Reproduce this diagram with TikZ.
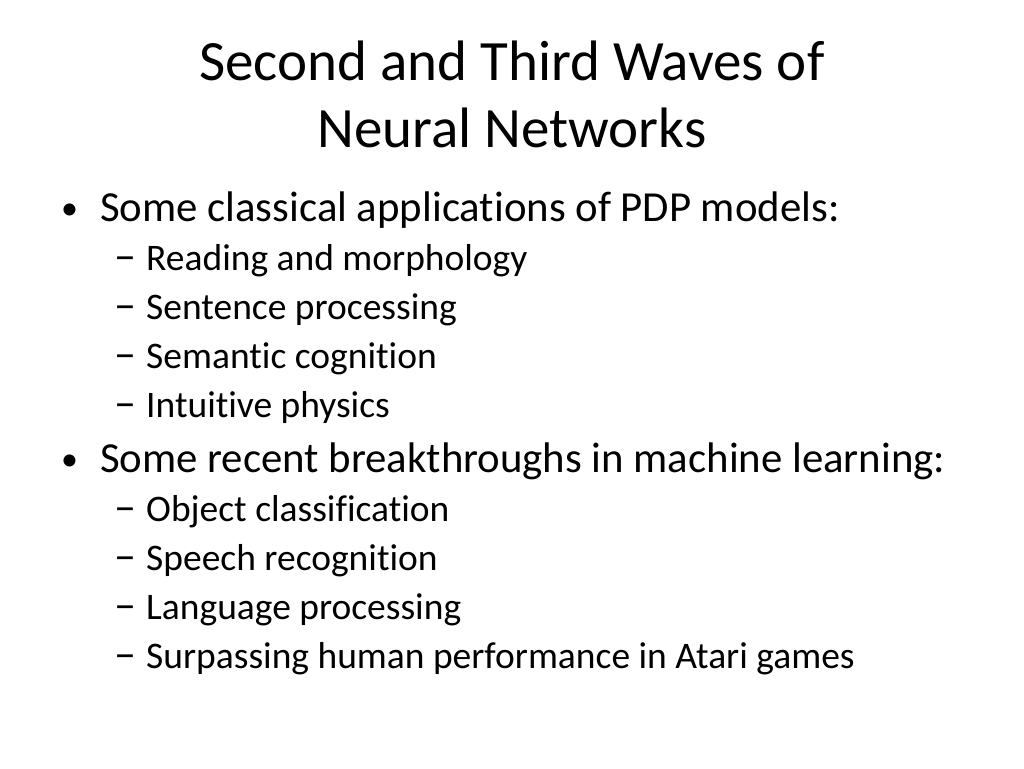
\documentclass[tikz,border=0pt]{standalone}
\usepackage{fontspec}
\setmainfont[RawFeature=-liga]{Carlito}
\begin{document}
\begin{tikzpicture}[x=1pt,y=1pt,
  title/.style={anchor=base,font=\fontsize{57}{60}\selectfont},
  lone/.style={anchor=base west,inner sep=0pt,font=\fontsize{42.8}{50}\selectfont},
  bul/.style={anchor=base west,inner sep=0pt,font=\fontsize{34}{40}\selectfont},
  dsh/.style={anchor=base west,inner sep=0pt,font=\fontsize{44}{48}\selectfont},
  ltwo/.style={anchor=base west,inner sep=0pt,font=\fontsize{37.5}{44}\selectfont}]
\useasboundingbox (0,0) rectangle (1024,-768);
\node[title,inner sep=0pt] (t1) at (512,-80) {Second and Third Waves of};
\node[title,inner sep=0pt] (t2) at (512,-147) {Neural Networks};
\node[bul] (b1) at (61,-219) {•};
\node[lone] (a1) at (100,-221) {Some classical applications of PDP models:};
\node[dsh] (d1) at (114,-270) {–}; \node[ltwo] (s1) at (146,-270) {Reading and morphology};
\node[dsh] (d2) at (114,-319) {–}; \node[ltwo] (s2) at (146,-319) {Sentence processing};
\node[dsh] (d3) at (114,-368) {–}; \node[ltwo] (s3) at (146,-368) {Semantic cognition};
\node[dsh] (d4) at (114,-417) {–}; \node[ltwo] (s4) at (146,-417) {Intuitive physics};
\node[bul] (b2) at (61,-470) {•};
\node[lone] (a2) at (100,-472) {Some recent breakthroughs in machine learning:};
\node[dsh] (d5) at (114,-521) {–}; \node[ltwo] (s5) at (146,-521) {Object classification};
\node[dsh] (d6) at (114,-570) {–}; \node[ltwo] (s6) at (146,-570) {Speech recognition};
\node[dsh] (d7) at (114,-619) {–}; \node[ltwo] (s7) at (146,-619) {Language processing};
\node[dsh] (d8) at (114,-668) {–}; \node[ltwo] (s8) at (146,-668) {Surpassing human performance in Atari games};
\end{tikzpicture}
\end{document}
